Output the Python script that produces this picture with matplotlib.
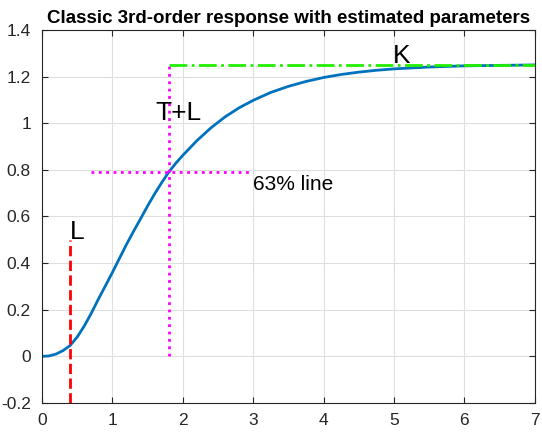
import matplotlib
matplotlib.use('Agg')
import matplotlib.pyplot as plt

plt.rcParams['font.family'] = ['Liberation Sans', 'DejaVu Sans']

# Step response
t = [0, 0.1, 0.2, 0.3, 0.4, 0.5, 0.6, 0.7, 0.8, 0.9, 1.0, 1.1, 1.2, 1.3, 1.4,
     1.5, 1.6, 1.7, 1.8, 1.9, 2.0, 2.2, 2.4, 2.6, 2.8, 3.0, 3.25, 3.5, 3.75,
     4.0, 4.25, 4.5, 4.75, 5.0, 5.5, 6.0, 6.5, 7.0]
y = [0, 0.002, 0.01, 0.025, 0.047, 0.083, 0.13, 0.185, 0.245, 0.302, 0.36,
     0.42, 0.48, 0.536, 0.59, 0.645, 0.697, 0.745, 0.79, 0.828, 0.862, 0.925,
     0.98, 1.027, 1.066, 1.098, 1.132, 1.158, 1.179, 1.196, 1.209, 1.219,
     1.227, 1.233, 1.241, 1.246, 1.248, 1.25]

# Estimated parameters
L = 0.4
TL = 1.8
K = 1.25
y63 = 0.79
line63_x = [0.7, 3.0]
L_line_y = [-0.2, 0.5]

fig = plt.figure(figsize=(5.42, 4.34), dpi=100)
ax = fig.add_axes([0.0775, 0.0714, 0.909, 0.8596])

ax.plot(t, y, color='#0072BD', lw=2)
ax.plot([L, L], L_line_y, '--', color='#FF0000', lw=2)
ax.plot([TL, TL], [0, K], ':', color='#FF00FF', lw=2)
ax.plot(line63_x, [y63, y63], ':', color='#FF00FF', lw=2)
ax.plot([TL, 7], [K, K], '-.', color='#22EE00', lw=2)

ax.text(0.39, 0.502, 'L', fontsize=19, va='baseline')
ax.text(1.61, 1.013, 'T+L', fontsize=19, va='baseline')
ax.text(3.0, 0.712, '63% line', fontsize=15, va='baseline')
ax.text(4.98, 1.26, 'K', fontsize=19, va='baseline')

ax.set_xlim(0, 7)
ax.set_ylim(-0.2, 1.4)
ax.set_xticks(range(0, 8))
ax.set_yticks([-0.2, 0, 0.2, 0.4, 0.6, 0.8, 1, 1.2, 1.4])
ax.set_yticklabels(['-0.2', '0', '0.2', '0.4', '0.6', '0.8', '1', '1.2', '1.4'])
ax.grid(True, color='#DFDFDF', lw=0.8)
ax.set_axisbelow(True)
ax.tick_params(direction='in', top=True, right=True, labelsize=12.5,
               colors='#262626', length=4)
ax.tick_params(axis='x', pad=7)
ax.tick_params(axis='y', pad=8)
for s in ax.spines.values():
    s.set_color('#262626')
    s.set_linewidth(0.8)

ax.set_title('Classic 3rd-order response with estimated parameters',
             fontsize=13.5, fontweight='bold', pad=5)

fig.savefig('out.png', dpi=100)
